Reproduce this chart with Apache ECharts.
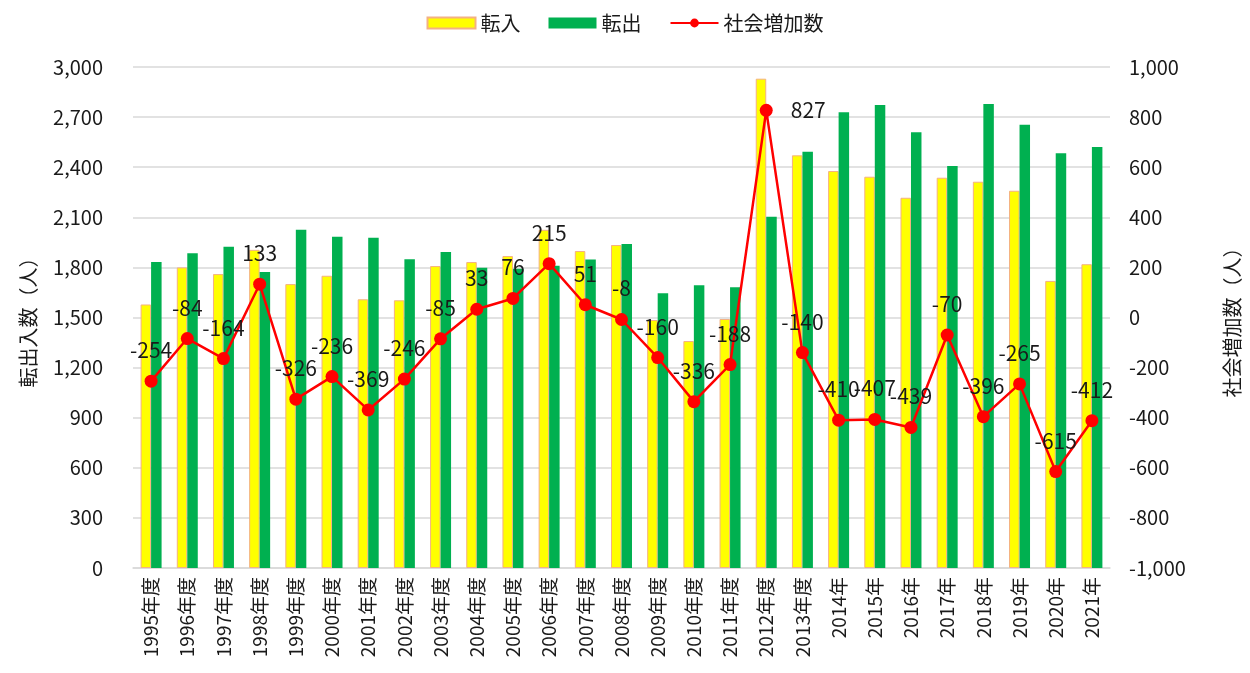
<!DOCTYPE html>
<html lang="ja">
<head>
<meta charset="utf-8">
<title>転出入数の推移</title>
<script src="https://cdn.jsdelivr.net/npm/echarts@6/dist/echarts.min.js"></script>
<style>
    html, body { margin: 0; padding: 0; background: #fff; }
    #migration_chart { width: 1250px; height: 673px; }
</style>
</head>
<body>
<div id="migration_chart"></div>
<script>
// Data
// ------------------------------

var categories = [
    '1995年度', '1996年度', '1997年度', '1998年度', '1999年度', '2000年度', '2001年度',
    '2002年度', '2003年度', '2004年度', '2005年度', '2006年度', '2007年度', '2008年度',
    '2009年度', '2010年度', '2011年度', '2012年度', '2013年度', '2014年', '2015年',
    '2016年', '2017年', '2018年', '2019年', '2020年', '2021年'
];

// 転入
var moveIn = [
    1578, 1800, 1760, 1905, 1700, 1750, 1609, 1603, 1808, 1832, 1868, 2025, 1898, 1934,
    1485, 1359, 1491, 2930, 2471, 2377, 2343, 2217, 2337, 2313, 2259, 1719, 1819
];

// 転出
var moveOut = [
    1832, 1884, 1924, 1772, 2026, 1984, 1978, 1849, 1892, 1798, 1792, 1810, 1847, 1940,
    1645, 1693, 1681, 2104, 2493, 2729, 2772, 2609, 2407, 2778, 2654, 2483, 2521
];

// 社会増加数
var netGain = [
    -254, -84, -164, 133, -326, -236, -369, -246, -85, 33, 76, 215, 51, -8,
    -160, -336, -188, 827, -140, -410, -407, -439, -70, -396, -265, -615, -412
];


// Setup module
// ------------------------------

var EchartsMigration = function() {

    var _migrationChart = function() {
        if (typeof echarts == 'undefined') {
            console.warn('Warning - echarts.min.js is not loaded.');
            return;
        }

        var chart_element = document.getElementById('migration_chart');
        if (!chart_element) return;

        var chart = echarts.init(chart_element);

        var fontFamily = '"Noto Sans CJK JP", "Noto Sans", sans-serif';
        var textColor = '#1a1a1a';
        var gridColor = '#d9d9d9';

        var thousands = function(v) {
            return Number(v).toLocaleString('en-US');
        };

        // The peak label sits to the right of its point, the rest above
        var netGainData = netGain.map(function(v) {
            if (v === Math.max.apply(null, netGain)) {
                return { value: v, label: { position: 'right', distance: 18 } };
            }
            return v;
        });

        chart.setOption({

            textStyle: {
                fontFamily: fontFamily,
                fontSize: 20,
                color: textColor
            },

            animation: false,

            grid: {
                left: 133,
                right: 139,
                top: 67,
                bottom: 105,
                containLabel: false
            },

            legend: {
                top: 8,
                left: 'center',
                itemWidth: 48,
                itemHeight: 11,
                itemGap: 28,
                textStyle: {
                    fontFamily: fontFamily,
                    fontSize: 20,
                    color: textColor
                },
                data: [
                    { name: '転入', icon: 'rect' },
                    { name: '転出', icon: 'rect' },
                    { name: '社会増加数' }
                ]
            },

            xAxis: {
                type: 'category',
                data: categories,
                axisTick: { show: false },
                axisLine: {
                    lineStyle: { color: gridColor, width: 1.5 }
                },
                axisLabel: {
                    rotate: 90,
                    interval: 0,
                    margin: 9,
                    color: textColor,
                    fontSize: 19,
                    fontFamily: fontFamily
                }
            },

            yAxis: [
                {
                    type: 'value',
                    name: '転出入数（人）',
                    nameLocation: 'middle',
                    nameGap: 95,
                    nameTextStyle: {
                        fontSize: 20,
                        color: textColor,
                        fontFamily: fontFamily
                    },
                    min: 0,
                    max: 3000,
                    interval: 300,
                    axisLine: { show: false },
                    axisTick: { show: false },
                    axisLabel: {
                        margin: 30,
                        color: textColor,
                        fontSize: 20,
                        formatter: thousands
                    },
                    splitLine: {
                        lineStyle: { color: gridColor, width: 1.5 }
                    }
                },
                {
                    type: 'value',
                    name: '社会増加数（人）',
                    nameLocation: 'middle',
                    nameGap: 112,
                    nameTextStyle: {
                        fontSize: 20,
                        color: textColor,
                        fontFamily: fontFamily
                    },
                    min: -1000,
                    max: 1000,
                    interval: 200,
                    axisLine: { show: false },
                    axisTick: { show: false },
                    axisLabel: {
                        margin: 19,
                        color: textColor,
                        fontSize: 20,
                        formatter: thousands
                    },
                    splitLine: { show: false }
                }
            ],

            series: [
                {
                    name: '転入',
                    type: 'bar',
                    barGap: '0%',
                    barCategoryGap: '42%',
                    itemStyle: {
                        color: '#ffff00',
                        borderColor: '#f4b183',
                        borderWidth: 1
                    },
                    data: moveIn
                },
                {
                    name: '転出',
                    type: 'bar',
                    itemStyle: {
                        color: '#00b050'
                    },
                    data: moveOut
                },
                {
                    name: '社会増加数',
                    type: 'line',
                    yAxisIndex: 1,
                    symbol: 'circle',
                    symbolSize: 13,
                    z: 5,
                    lineStyle: {
                        color: '#ff0000',
                        width: 2.5
                    },
                    itemStyle: {
                        color: '#ff0000'
                    },
                    label: {
                        show: true,
                        position: 'top',
                        distance: 14,
                        color: textColor,
                        fontSize: 21,
                        fontFamily: fontFamily
                    },
                    data: netGainData
                }
            ]
        });
    };

    return {
        init: function() {
            _migrationChart();
        }
    }
}();


// Initialize module
// ------------------------------

document.addEventListener('DOMContentLoaded', function() {
    EchartsMigration.init();
});
</script>
</body>
</html>
